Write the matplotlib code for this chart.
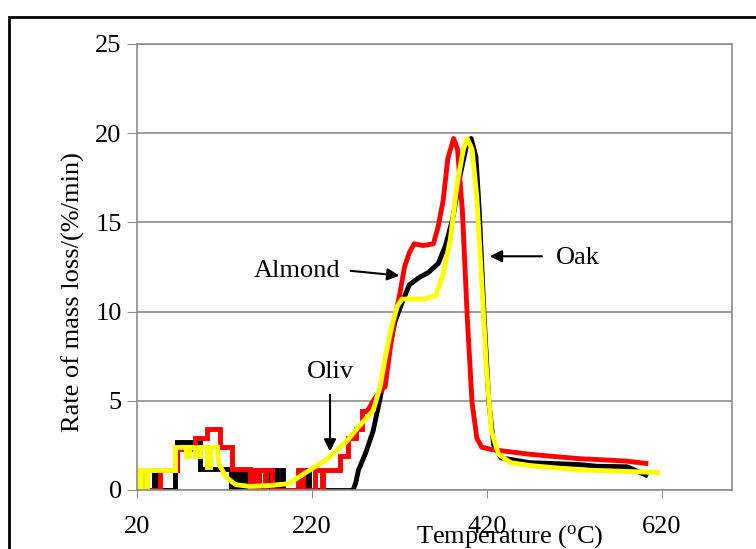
import matplotlib
matplotlib.use("Agg")
import matplotlib.pyplot as plt
from matplotlib.patches import Rectangle

plt.rcParams['font.family'] = ['Liberation Serif', 'DejaVu Serif']
plt.rcParams['mathtext.fontset'] = 'custom'
plt.rcParams['mathtext.rm'] = 'Liberation Serif'

# low-temperature part of each curve is stepped (edges + levels), rest is a line
oak_step_edges = [20, 22, 24, 27, 29, 40, 43, 64, 66, 92, 128, 131, 135, 138, 142, 145, 149, 157, 160, 169, 170, 178, 180, 186, 187, 191, 205, 207, 214, 216, 267]
oak_step_vals = [0, 1.1, 0, 1.1, 0, 1.1, 0, 1.1, 2.7, 1.2, 0, 1.1, 0, 1.1, 0, 1.1, 0, 1.1, 0, 1.1, 0, 1.1, 0, 1.1, 0, 0, 1.1, 0, 1.1, 0]
oak_T = [267, 270, 273, 281.5, 289.8, 298.1, 306.3, 314.6, 322.9, 331.2, 342.2, 353.2, 364.3, 372.5, 380.8, 389.1, 397.4, 401.8, 407.3, 411.2, 416.7, 422.2, 427.7, 436, 469, 524, 546, 580, 601.5]
oak_rate = [0, 0.4, 1.1, 2.1, 3.3, 5.2, 7.4, 9.4, 10.5, 11.5, 11.9, 12.2, 12.7, 13.7, 15.2, 17.6, 19.5, 19.7, 18.7, 15.6, 9.7, 4.85, 2.5, 1.8, 1.53, 1.43, 1.33, 1.3, 0.84]

almond_step_edges = [20, 46, 66, 86, 100, 115, 129, 149, 152, 156, 160, 166, 168, 174, 176, 204, 210, 223, 231, 233, 252, 261, 270, 277, 283]
almond_step_vals = [0, 1.1, 2.3, 2.9, 3.4, 2.4, 1.15, 0, 1.1, 0, 1.1, 0, 1.1, 0, 0, 1.1, 0, 1.1, 0, 1.1, 1.9, 2.9, 3.4, 4.4]
almond_T = [283, 290, 297, 303.6, 309, 314.6, 320, 325.7, 331.2, 336.7, 347, 358.8, 364.3, 369.8, 375.3, 381.9, 386.3, 391.9, 397.4, 402.9, 408.4, 413.9, 425, 469, 524, 579, 601.5]
almond_rate = [4.4, 5.0, 5.5, 5.8, 7.8, 9.7, 10.9, 12.5, 13.3, 13.8, 13.7, 13.8, 14.8, 16.2, 18.6, 19.7, 19.1, 15.6, 9.7, 4.9, 2.9, 2.4, 2.27, 2.0, 1.76, 1.62, 1.49]

oliv_step_edges = [20, 22, 24, 25, 30, 31, 63, 76, 80, 86, 92, 100, 104, 112]
oliv_step_vals = [0, 1.1, 0, 1.1, 0, 1.1, 2.4, 1.9, 2.4, 1.9, 2.4, 1.3, 2.4]
oliv_T = [112, 113.2, 121.5, 132.5, 149, 171, 193, 215, 237, 259, 276, 290, 298, 303.6, 311.9, 317.4, 322.9, 347.7, 361.5, 369.8, 378.1, 386, 393, 397.4, 402.9, 408.4, 413.9, 419.4, 425, 433.2, 447, 469, 524, 579, 615]
oliv_rate = [2.4, 1.5, 0.74, 0.3, 0.2, 0.25, 0.35, 1.04, 1.72, 2.7, 3.7, 4.46, 5.83, 7.4, 9.35, 10.3, 10.7, 10.7, 10.9, 12.1, 14.05, 17.2, 19.1, 19.7, 19.1, 16.4, 11.7, 6.8, 3.3, 2.0, 1.53, 1.37, 1.13, 1.04, 0.98]

y_ticks = [0, 5, 10, 15, 20, 25]
x_ticks = [20, 220, 420, 620]

fig = plt.figure(figsize=(7.56, 5.49), dpi=100)
ax = fig.add_axes([0.1812, 0.1075, 0.7871, 0.8124])

lw = 3.5
ax.stairs(oak_step_vals, oak_step_edges, baseline=None, color='black', lw=lw)
ax.plot(oak_T, oak_rate, color='black', lw=lw)
ax.stairs(almond_step_vals, almond_step_edges, baseline=None, color='red', lw=lw)
ax.plot(almond_T, almond_rate, color='red', lw=lw)
ax.stairs(oliv_step_vals, oliv_step_edges, baseline=None, color='yellow', lw=lw)
ax.plot(oliv_T, oliv_rate, color='yellow', lw=lw)

ax.set_xlim(20, 700)
ax.set_ylim(0, 25)
ax.set_xticks(x_ticks)
ax.set_yticks(y_ticks)
ax.grid(axis='y', color='#8c8c8c', lw=1.2)
ax.set_axisbelow(True)
for s in ax.spines.values():
    s.set_color('#8c8c8c')
    s.set_linewidth(1.2)
fs = 19
ax.tick_params(axis='x', direction='out', length=6, color='#8c8c8c', labelsize=fs, pad=13)
ax.tick_params(axis='y', direction='out', length=7, color='#8c8c8c', labelsize=fs, pad=4)

ax.set_ylabel('Rate of mass loss/(%/min)', fontsize=fs)
ax.yaxis.set_label_coords(-0.087, 0.444)
ax.text(0.627, -0.105, r'Temperature ($\mathregular{^o}$C)', transform=ax.transAxes,
        fontsize=fs, ha='center', va='center')

arrow = dict(arrowstyle='-|>', color='black', lw=1.5, mutation_scale=18)
ax.annotate('', xy=(323, 12.0), xytext=(261, 12.3), arrowprops=arrow)
ax.text(203, 12.3, 'Almond', fontsize=fs, ha='center', va='center')
ax.annotate('', xy=(420, 13.1), xytext=(486, 13.1), arrowprops=arrow)
ax.text(524, 13.0, 'Oak', fontsize=fs, ha='center', va='center')
ax.annotate('', xy=(240.6, 2.0), xytext=(240.6, 5.5), arrowprops=arrow)
ax.text(240.6, 6.6, 'Oliv', fontsize=fs, ha='center', va='center')

fig.add_artist(Rectangle((9 / 756, -0.1), 1.2, (549 - 17) / 549 + 0.1, transform=fig.transFigure,
                         fill=False, edgecolor='black', lw=2))

fig.savefig('out.png', dpi=100)
